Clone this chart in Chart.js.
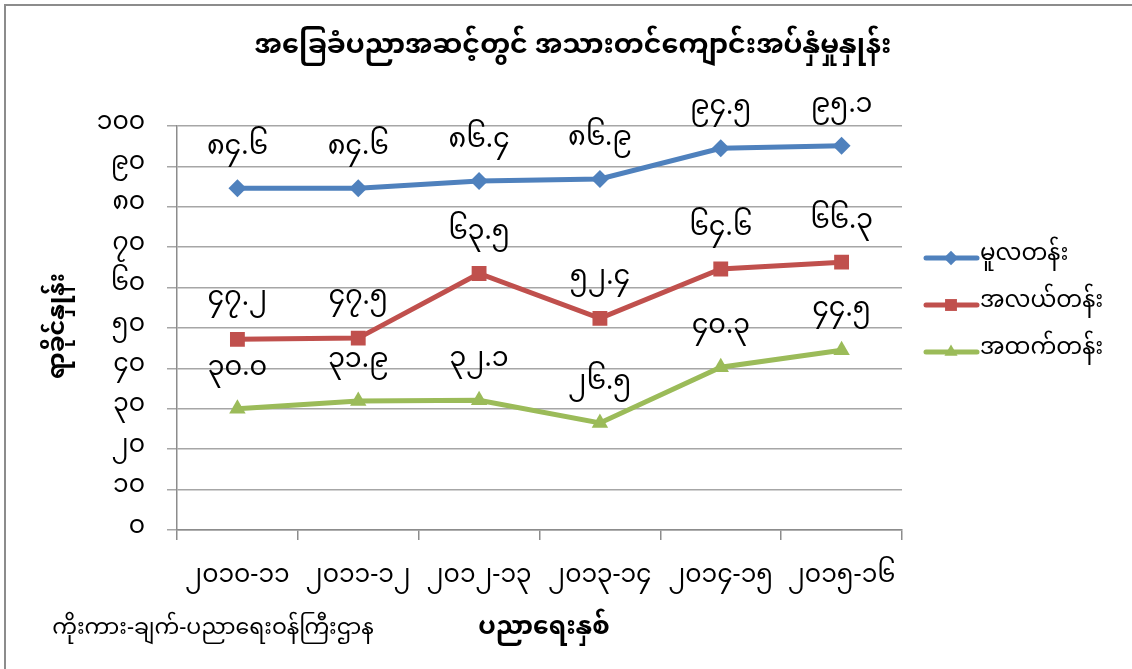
<!DOCTYPE html>
<html>
<head>
<meta charset="utf-8">
<script src="https://cdn.jsdelivr.net/npm/chart.js@4.4.1/dist/chart.umd.min.js"></script>
<style>
  html, body { margin: 0; padding: 0; background: #fff; overflow: hidden; }
  #frame { position: absolute; left: 4px; top: 4px; width: 1140px; height: 680px;
           border-left: 2px solid #8c8c8c; border-top: 2px solid #8c8c8c; }
  #c { position: absolute; left: 0; top: 0; }
</style>
</head>
<body>
<div id="frame"></div>
<canvas id="c" width="1132" height="669"></canvas>
<script>
// ---- data ----
const years = ['၂၀၁၀-၁၁', '၂၀၁၁-၁၂', '၂၀၁၂-၁၃', '၂၀၁၃-၁၄', '၂၀၁၄-၁၅', '၂၀၁၅-၁၆'];
const primary = [84.6, 84.6, 86.4, 86.9, 94.5, 95.1];
const middle  = [47.2, 47.5, 63.5, 52.4, 64.6, 66.3];
const high    = [30.0, 31.9, 32.1, 26.5, 40.3, 44.5];
const seriesNames = ['မူလတန်း', 'အလယ်တန်း', 'အထက်တန်း'];

const chartTitle = 'အခြေခံပညာအဆင့်တွင် အသားတင်ကျောင်းအပ်နှံမှုနှုန်း';
const yTitle = 'ရာခိုင်နှုန်း';
const xTitle = 'ပညာရေးနှစ်';
const sourceText = 'ကိုးကား-ချက်-ပညာရေးဝန်ကြီးဌာန';

const FONT = "'Noto Sans Myanmar', 'Myanmar Text', 'Padauk', 'Myanmar3', 'Noto Sans', sans-serif";

// latin digits -> myanmar digits
const mm = s => String(s).replace(/[0-9]/g, d => String.fromCharCode(0x1040 + Number(d)));

// ---- extra text: title, axis titles, source, legend, value labels ----
const decor = {
  id: 'decor',
  afterDatasetsDraw(chart) {
    const ctx = chart.ctx;
    ctx.save();
    ctx.fillStyle = '#000';
    ctx.textAlign = 'center';
    ctx.textBaseline = 'middle';

    // value labels
    ctx.font = '27px ' + FONT;
    chart.data.datasets.forEach((ds, i) => {
      chart.getDatasetMeta(i).data.forEach((pt, j) => {
        ctx.fillText(mm(ds.data[j].toFixed(1)), pt.x, pt.y - 37);
      });
    });

    // title
    ctx.font = 'bold 27px ' + FONT;
    ctx.fillText(chartTitle, 573, 50);

    // x axis title + source
    ctx.font = 'bold 25px ' + FONT;
    ctx.fillText(xTitle, 544, 631);
    ctx.font = '22px ' + FONT;
    ctx.fillText(sourceText, 213, 632);

    // y axis title
    ctx.save();
    ctx.translate(61, 326);
    ctx.rotate(-Math.PI / 2);
    ctx.font = 'bold 24px ' + FONT;
    ctx.fillText(yTitle, 0, 0);
    ctx.restore();

    // legend
    ctx.textAlign = 'left';
    ctx.font = '23px ' + FONT;
    chart.data.datasets.forEach((ds, i) => {
      const y = 258 + i * 47;
      ctx.strokeStyle = ds.borderColor;
      ctx.lineWidth = 5;
      ctx.lineCap = 'round';
      ctx.beginPath();
      ctx.moveTo(926, y);
      ctx.lineTo(977, y);
      ctx.stroke();
      ctx.fillStyle = ds.borderColor;
      Chart.helpers.drawPoint(ctx, { pointStyle: ds.pointStyle, radius: ds.pointRadius * 0.8, borderWidth: 0 }, 951, y);
      ctx.fillStyle = '#000';
      ctx.fillText(ds.label, 980, y);
    });
    ctx.restore();
  }
};

new Chart(document.getElementById('c'), {
  type: 'line',
  data: {
    labels: years,
    datasets: [
      { label: seriesNames[0], data: primary, borderColor: '#4F81BD', backgroundColor: '#4F81BD',
        pointStyle: 'rectRot', pointRadius: 9, borderWidth: 5, pointBorderWidth: 0 },
      { label: seriesNames[1], data: middle, borderColor: '#C0504D', backgroundColor: '#C0504D',
        pointStyle: 'rect', pointRadius: 10.5, borderWidth: 5, pointBorderWidth: 0 },
      { label: seriesNames[2], data: high, borderColor: '#9BBB59', backgroundColor: '#9BBB59',
        pointStyle: 'triangle', pointRadius: 9.5, borderWidth: 5, pointBorderWidth: 0 }
    ]
  },
  options: {
    responsive: false,
    animation: false,
    layout: { padding: { left: 0, right: 230, top: 126, bottom: 0 } },
    plugins: { legend: { display: false }, tooltip: { enabled: false } },
    scales: {
      x: {
        offset: true,
        grid: { offset: true, drawOnChartArea: false, drawTicks: true, tickLength: 10, color: '#8c8c8c', lineWidth: 1.5 },
        border: { display: true, color: '#8c8c8c', width: 1.5 },
        ticks: { color: '#000', font: { family: FONT, size: 25 }, padding: 24, maxRotation: 0, autoSkip: false },
        afterFit: s => { s.height = 139; }
      },
      y: {
        min: 0, max: 100,
        grid: { color: '#a6a6a6', lineWidth: 1.5, tickLength: 10 },
        border: { display: true, color: '#8c8c8c', width: 1.5 },
        ticks: { stepSize: 10, color: '#000', font: { family: FONT, size: 25 }, padding: 22,
                 callback: v => mm(v) },
        afterFit: s => { s.width = 177; }
      }
    }
  },
  plugins: [decor]
});
</script>
</body>
</html>
